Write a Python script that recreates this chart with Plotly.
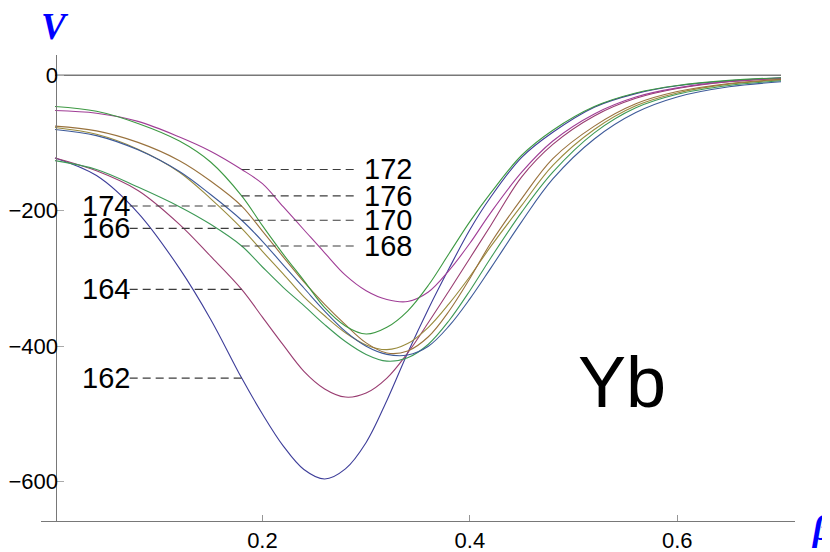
import plotly.graph_objects as go

# deformation parameter grid
beta = [0, 0.04, 0.08, 0.12, 0.15, 0.18, 0.20, 0.22, 0.24, 0.26, 0.28, 0.30, 0.32,
        0.34, 0.36, 0.38, 0.40, 0.42, 0.45, 0.48, 0.52, 0.56, 0.60, 0.65, 0.70]

# potential V(beta) for the Yb isotopes
v162 = [-122, -148, -203, -285, -360, -447, -500, -547, -582, -596, -581, -542, -480,
        -410, -345, -285, -228, -180, -121, -84, -47, -27, -15.5, -8, -3.8]
v164 = [-122, -141, -170, -220, -267, -316, -357, -398, -437, -463, -475, -469, -447,
        -410, -365, -318, -270, -222, -150, -102, -60, -34, -19.5, -9.6, -4.8]
v166 = [-77, -87, -109, -143, -182, -226, -260, -293, -327, -355, -380, -398, -405,
        -396, -372, -337, -297, -253, -192, -133, -80, -45, -26, -13, -7]
v168 = [-126, -139, -165, -194, -220, -252, -283, -313, -340, -368, -393, -412, -422,
        -417, -397, -362, -318, -270, -202, -143, -85, -48, -28, -15, -8]
v170 = [-80, -89, -110, -142, -176, -214, -245, -280, -314, -348, -378, -400, -412,
        -413, -400, -370, -330, -285, -216, -153, -94, -55, -32, -17, -9.5]
v172 = [-52, -56, -68, -91, -112, -139, -160, -194, -228, -262, -295, -318, -331,
        -334, -320, -288, -248, -203, -143, -97, -57, -32, -18.5, -9, -4.4]
v174 = [-75, -82, -99, -126, -156, -193, -230, -268, -305, -338, -368, -395, -410,
        -407, -386, -348, -300, -248, -182, -123, -75, -42, -24, -12, -6]
v176 = [-46, -53, -71, -97, -128, -178, -222, -264, -303, -343, -370, -382, -372,
        -348, -310, -263, -216, -174, -118, -81, -46, -26, -15, -7.5, -3.5]

isotopes = ['162', '164', '166', '168', '170', '172', '174', '176']
series = [v162, v164, v166, v168, v170, v172, v174, v176]
colors = ['rgb(61,61,153)', 'rgb(153,61,113)', 'rgb(153,139,61)', 'rgb(61,153,86)',
          'rgb(61,90,153)', 'rgb(160,61,150)', 'rgb(153,114,61)', 'rgb(61,153,67)']

left_labels = ['174', '166', '164', '162']
right_labels = ['172', '176', '170', '168']
mark = beta.index(0.18)

fig = go.Figure()

# V = 0 reference line
fig.add_trace(go.Scatter(x=[beta[0], beta[-1]], y=[0, 0], mode='lines',
                         line=dict(color='rgb(120,120,120)', width=1.6),
                         hoverinfo='skip'))

for name, vals, col in zip(isotopes, series, colors):
    fig.add_trace(go.Scatter(x=beta, y=vals, mode='lines', name=name,
                             line=dict(color=col, width=1.1, shape='spline', smoothing=1.0)))

# dashed label leaders
for lab in left_labels + right_labels:
    yv = series[isotopes.index(lab)][mark]
    if lab in left_labels:
        xs, xt = [0.072, beta[mark]], 0.049
    else:
        xs, xt = [beta[mark], 0.289], 0.321
    fig.add_trace(go.Scatter(x=xs, y=[yv, yv], mode='lines',
                             line=dict(color='rgb(60,60,60)', width=1.1, dash='8px,5px'),
                             hoverinfo='skip'))
    fig.add_annotation(x=xt, y=yv, text=lab, showarrow=False,
                       font=dict(family='Liberation Sans, Arial', size=29, color='black'),
                       xanchor='center', yanchor='middle')

fig.add_annotation(x=0.547, y=-453, text='Yb', showarrow=False,
                   xanchor='center', yanchor='middle',
                   font=dict(family='Liberation Sans, Arial', size=72, color='black'))

fig.add_annotation(xref='paper', yref='paper', x=0.0186, y=1.062, text='<b><i>V</i></b>',
                   showarrow=False, xanchor='center', yanchor='middle',
                   font=dict(family='Liberation Serif, Times New Roman', size=37, color='blue'))
fig.add_annotation(xref='paper', yref='paper', x=1.035, y=-0.015, text='<b><i>β</i></b>',
                   showarrow=False, xanchor='center', yanchor='middle',
                   font=dict(family='Liberation Serif, Times New Roman', size=36, color='blue'))

# the page body adds an 8px offset, so the figure is 8px smaller than the window
fig.update_layout(
    width=822, height=544,
    margin=dict(l=33, r=35, t=47, b=31),
    plot_bgcolor='white', paper_bgcolor='white',
    showlegend=False,
    font=dict(family='Liberation Sans, Arial', size=20, color='black'),
    xaxis=dict(range=[-0.0135, 0.7135], showgrid=False, zeroline=False, automargin=False,
               showline=True, linecolor='rgb(120,120,120)', linewidth=1.2,
               tickvals=[0.2, 0.4, 0.6], ticktext=['0.2', '0.4', '0.6'],
               tickfont=dict(family='Liberation Sans, Arial', size=22, color='black'),
               ticks='inside', ticklen=6, tickcolor='rgb(150,150,150)',
               ticklabelstandoff=-1),
    yaxis=dict(range=[-658, 30], showgrid=False, zeroline=False, automargin=False,
               anchor='free', position=(55.5 - 41) / 754,
               showline=True, linecolor='rgb(120,120,120)', linewidth=1.2,
               tickvals=[0, -200, -400, -600],
               tickfont=dict(family='Liberation Sans, Arial', size=22, color='black'),
               ticks='inside', ticklen=7, tickcolor='rgb(170,170,170)',
               ticklabelstandoff=-7),
)

fig.write_html("out.html")
